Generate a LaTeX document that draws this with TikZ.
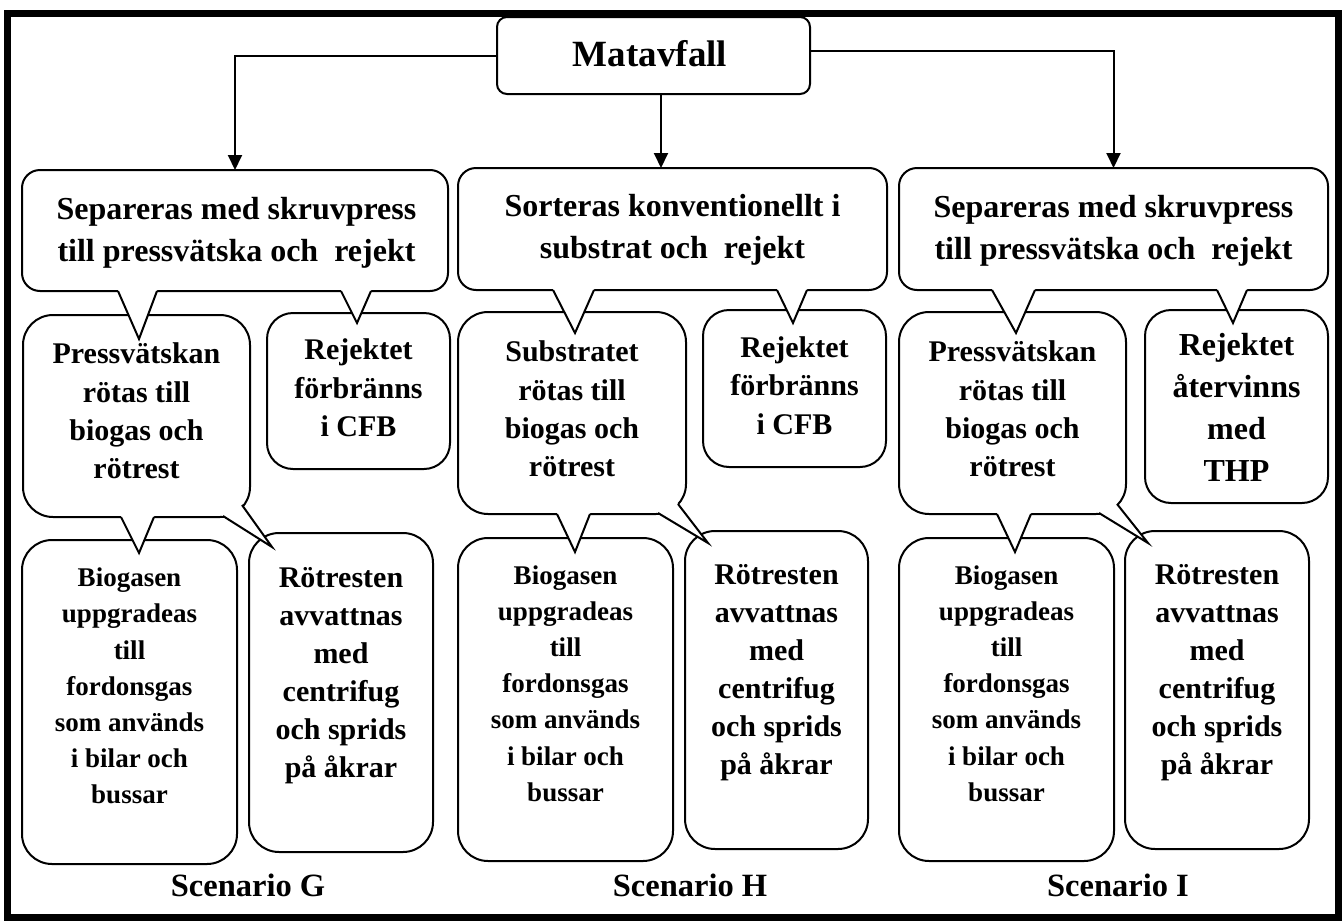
\documentclass[tikz,border=0pt]{standalone}
\usepackage{fontspec}
\setmainfont{Liberation Serif}
\usetikzlibrary{arrows.meta,calc}

% white-filled speech-bubble pointer: base points #1,#2, tip #3, #4 = shift into the source box
\newcommand\calloutptr[4]{%
  \fill[white] ($#1+#4$) -- #1 -- #3 -- #2 -- ($#2+#4$) -- cycle;
  \draw[ptr] #1 -- #3 -- #2;}

\begin{document}
\begin{tikzpicture}[x=1pt,y=-1pt,
  every node/.style={inner sep=0pt, outer sep=0pt},
  panel/.style={draw, line width=2pt, fill=white, rounded corners=#1},
  words/.style={align=center},
  fM/.style={font=\bfseries\fontsize{37}{43}\selectfont},
  fA/.style={font=\bfseries\fontsize{32}{42}\selectfont},
  fB/.style={font=\bfseries\fontsize{30}{38.3}\selectfont},
  fC/.style={font=\bfseries\fontsize{27}{36.2}\selectfont},
  fD/.style={font=\bfseries\fontsize{30}{38}\selectfont},
  fS/.style={font=\bfseries\fontsize{32.5}{37}\selectfont},
  arrow/.style={line width=2pt, -{Triangle[width=14pt,length=15pt]}},
  ptr/.style={line width=2pt, line join=miter},
]
\useasboundingbox (0,0) rectangle (1344,921);

% outer frame
\draw[line width=7pt] (7.5,13.5) rectangle (1338,917);

% top box
\node[panel=10pt, minimum width=313pt, minimum height=77pt] (M) at (653.5,55.5) {};

% first level
\node[panel=18pt, minimum width=426pt, minimum height=121pt] (g1) at (235,230.5) {};
\node[panel=18pt, minimum width=429pt, minimum height=122pt] (h1) at (672.5,229) {};
\node[panel=18pt, minimum width=429pt, minimum height=122pt] (i1) at (1113.5,229) {};

% second level
\node[panel=30pt, minimum width=227pt, minimum height=202pt] (g2a) at (136.5,416) {};
\node[panel=26pt, minimum width=183pt, minimum height=156pt] (g2b) at (358.5,391) {};
\node[panel=30pt, minimum width=228pt, minimum height=202pt] (h2a) at (572,413) {};
\node[panel=26pt, minimum width=183pt, minimum height=157pt] (h2b) at (794.5,388.5) {};
\node[panel=30pt, minimum width=227pt, minimum height=202pt] (i2a) at (1012.5,413) {};
\node[panel=26pt, minimum width=183pt, minimum height=193pt] (i2b) at (1236.5,406.5) {};

% third level
\node[panel=30pt, minimum width=215pt, minimum height=324pt] (g3a) at (129.5,702) {};
\node[panel=30pt, minimum width=184pt, minimum height=319pt] (g3b) at (341,692.5) {};
\node[panel=30pt, minimum width=215pt, minimum height=323pt] (h3a) at (565.5,699.5) {};
\node[panel=30pt, minimum width=183pt, minimum height=318pt] (h3b) at (776.5,690) {};
\node[panel=30pt, minimum width=215pt, minimum height=323pt] (i3a) at (1006.5,699.5) {};
\node[panel=30pt, minimum width=184pt, minimum height=318pt] (i3b) at (1217,690) {};

% arrows from the top box
\draw[arrow] (M.west) -| (g1.north);
\draw[arrow] (661,0 |- M.south) -- (661,0 |- h1.north);
\draw[arrow] ($(M.east)+(0,-5)$) -| (i1.north);

% pointer points
\coordinate (p1a) at (118,0 |- g1.south);  \coordinate (p1b) at (157,0 |- g1.south);
\coordinate (p1t) at ($(139,0 |- g2a.north)+(0,24)$);
\coordinate (p2a) at (341,0 |- g1.south);  \coordinate (p2b) at (371,0 |- g1.south);
\coordinate (p2t) at ($(357,0 |- g2b.north)+(0,10)$);
\coordinate (p3a) at (121,0 |- g2a.south); \coordinate (p3b) at (154,0 |- g2a.south);
\coordinate (p3t) at ($(139,0 |- g3a.north)+(0,13)$);
\coordinate (p4a) at (553,0 |- h1.south);  \coordinate (p4b) at (594,0 |- h1.south);
\coordinate (p4t) at ($(575,0 |- h2a.north)+(0,21)$);
\coordinate (p5a) at (777,0 |- h1.south);  \coordinate (p5b) at (807,0 |- h1.south);
\coordinate (p5t) at ($(793,0 |- h2b.north)+(0,13)$);
\coordinate (p6a) at (557,0 |- h2a.south); \coordinate (p6b) at (590,0 |- h2a.south);
\coordinate (p6t) at ($(575,0 |- h3a.north)+(0,14)$);
\coordinate (p7a) at (992,0 |- i1.south);  \coordinate (p7b) at (1035,0 |- i1.south);
\coordinate (p7t) at ($(1016,0 |- i2a.north)+(0,21)$);
\coordinate (p8a) at (1217,0 |- i1.south); \coordinate (p8b) at (1247,0 |- i1.south);
\coordinate (p8t) at ($(1233,0 |- i2b.north)+(0,13)$);
\coordinate (p9a) at (997,0 |- i2a.south); \coordinate (p9b) at (1031,0 |- i2a.south);
\coordinate (p9t) at ($(1015,0 |- i3a.north)+(0,14)$);
% diagonal pointers
\coordinate (dga) at ($(g2a.south east)+(-8,-12)$);
\coordinate (dgb) at ($(g2a.south east)+(-27,-1)$);
\coordinate (dgt) at ($(g3b.north west)+(23,14)$);
\coordinate (dha) at ($(h2a.south east)+(-8,-10)$);
\coordinate (dhb) at ($(h2a.south east)+(-28,-1)$);
\coordinate (dht) at ($(h3b.north west)+(23,12)$);
\coordinate (dia) at ($(i2a.south east)+(-9,-10)$);
\coordinate (dib) at ($(i2a.south east)+(-27,-1)$);
\coordinate (dit) at ($(i3b.north west)+(23,12)$);

\calloutptr{(p1a)}{(p1b)}{(p1t)}{(0,-2.5)}
\calloutptr{(p2a)}{(p2b)}{(p2t)}{(0,-2.5)}
\calloutptr{(p3a)}{(p3b)}{(p3t)}{(0,-2.5)}
\calloutptr{(p4a)}{(p4b)}{(p4t)}{(0,-2.5)}
\calloutptr{(p5a)}{(p5b)}{(p5t)}{(0,-2.5)}
\calloutptr{(p6a)}{(p6b)}{(p6t)}{(0,-2.5)}
\calloutptr{(p7a)}{(p7b)}{(p7t)}{(0,-2.5)}
\calloutptr{(p8a)}{(p8b)}{(p8t)}{(0,-2.5)}
\calloutptr{(p9a)}{(p9b)}{(p9t)}{(0,-2.5)}
\calloutptr{(dga)}{(dgb)}{(dgt)}{(-2,-2)}
\calloutptr{(dha)}{(dhb)}{(dht)}{(-2,-2)}
\calloutptr{(dia)}{(dib)}{(dit)}{(-2,-2)}

% texts
\node[words,fM] (Mt) at ($(M.center)+(-3.5,-2)$) {Matavfall};
\node[words,fA] (g1t) at ($(g1.center)+(1.5,2)$) {Separeras med skruvpress\\till pressvätska och\ \ rejekt};
\node[words,fA] (h1t) at ($(h1.center)+(0,1)$) {Sorteras konventionellt i\\substrat och\ \ rejekt};
\node[words,fA] (i1t) at ($(i1.center)+(0,2)$) {Separeras med skruvpress\\till pressvätska och\ \ rejekt};

\node[words,fB] (g2at) at ($(g2a.center)+(0,-5)$) {Pressvätskan\\rötas till\\biogas och\\rötrest};
\node[words,fB] (g2bt) at ($(g2b.center)+(0,-3)$) {Rejektet\\förbränns\\i CFB};
\node[words,fB] (h2at) at ($(h2a.center)+(0,-4)$) {Substratet\\rötas till\\biogas och\\rötrest};
\node[words,fB] (h2bt) at ($(h2b.center)+(0,-3)$) {Rejektet\\förbränns\\i CFB};
\node[words,fB] (i2at) at ($(i2a.center)+(0,-4)$) {Pressvätskan\\rötas till\\biogas och\\rötrest};
\node[words,fA] (i2bt) at ($(i2b.center)+(0,1)$) {Rejektet\\återvinns\\med\\THP};

\node[words,fC] (g3at) at ($(g3a.center)+(0,-16)$) {Biogasen\\uppgradeas\\till\\fordonsgas\\som används\\i bilar och\\bussar};
\node[words,fD] (g3bt) at ($(g3b.center)+(0,-17)$) {Rötresten\\avvattnas\\med\\centrifug\\och sprids\\på åkrar};
\node[words,fC] (h3at) at ($(h3a.center)+(0,-16)$) {Biogasen\\uppgradeas\\till\\fordonsgas\\som används\\i bilar och\\bussar};
\node[words,fD] (h3bt) at ($(h3b.center)+(0,-17)$) {Rötresten\\avvattnas\\med\\centrifug\\och sprids\\på åkrar};
\node[words,fC] (i3at) at ($(i3a.center)+(0,-16)$) {Biogasen\\uppgradeas\\till\\fordonsgas\\som används\\i bilar och\\bussar};
\node[words,fD] (i3bt) at ($(i3b.center)+(0,-17)$) {Rötresten\\avvattnas\\med\\centrifug\\och sprids\\på åkrar};

\node[fS] (sg) at (248,885) {Scenario G};
\node[fS] (sh) at (690,885) {Scenario H};
\node[fS] (si) at (1118,885) {Scenario I};
\end{tikzpicture}
\end{document}
